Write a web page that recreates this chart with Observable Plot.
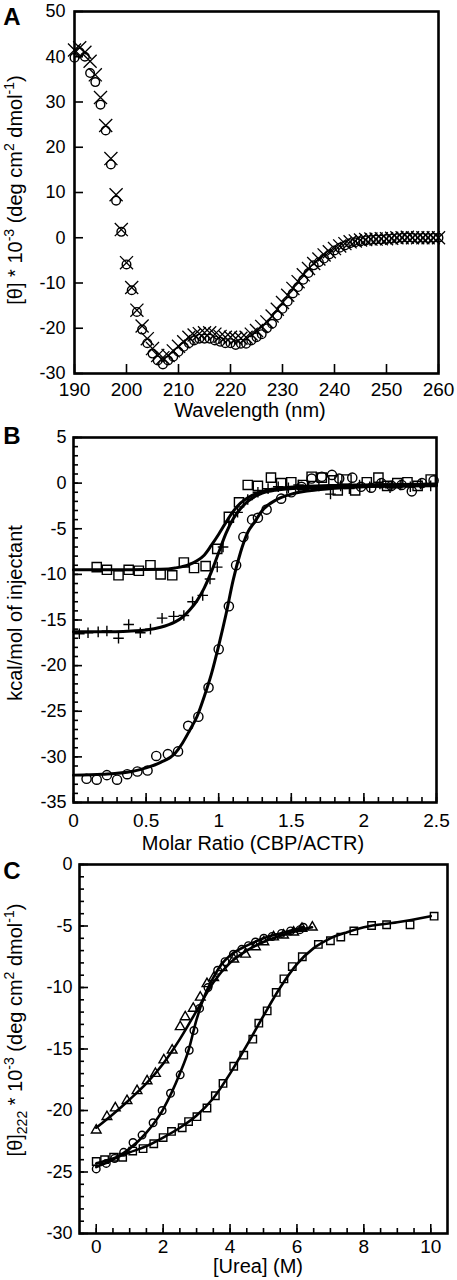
<!DOCTYPE html>
<html><head><meta charset="utf-8">
<script src="https://cdn.jsdelivr.net/npm/d3@7"></script>
<script src="https://cdn.jsdelivr.net/npm/@observablehq/plot@0.6"></script>
<style>body{margin:0;background:#fff;overflow:hidden}#chart svg{display:block}</style>
</head><body><div id="chart"></div>
<script>
// ---------- Panel A: CD spectra ----------
const wavelength = [190,191,192,193,194,195,196,197,198,199,200,201,202,203,204,205,206,207,208,209,210,211,212,213,214,215,216,217,218,219,220,221,222,223,224,225,226,227,228,229,230,231,232,233,234,235,236,237,238,239,240,241,242,243,244,245,246,247,248,249,250,251,252,253,254,255,256,257,258,259,260];
const thetaCircle = [39.8,41.0,40.0,36.4,34.4,29.4,23.7,16.2,8.2,1.3,-5.9,-11.6,-16.4,-20.3,-23.3,-25.6,-27.1,-28.0,-27.1,-26.3,-25.2,-24.1,-23.3,-22.7,-22.3,-22.3,-22.3,-22.7,-23.0,-23.3,-23.3,-23.7,-23.4,-23.4,-22.7,-22.0,-21.3,-20.0,-19.0,-17.2,-15.7,-14.1,-12.3,-10.9,-9.3,-7.8,-6.1,-5.4,-4.6,-3.7,-2.8,-2.2,-1.7,-1.2,-1.0,-0.8,-0.6,-0.5,-0.4,-0.4,-0.3,-0.2,-0.1,0.0,0.1,0.0,-0.1,0.0,-0.1,0.0,0.0];
const thetaCross = [41.5,42.0,41.0,39.0,36.0,31.0,24.8,17.5,9.5,1.8,-5.5,-11.0,-16.0,-19.5,-22.3,-24.5,-26.0,-26.5,-26.0,-25.0,-24.0,-23.0,-22.0,-21.5,-21.2,-21.0,-21.0,-21.3,-21.8,-22.0,-22.0,-22.2,-22.2,-22.0,-21.3,-20.5,-19.6,-18.6,-17.3,-15.8,-14.3,-12.7,-11.2,-9.7,-8.2,-6.8,-5.7,-4.7,-3.8,-3.1,-2.4,-1.8,-1.3,-0.9,-0.7,-0.5,-0.4,-0.3,-0.3,-0.2,-0.2,-0.1,0.0,0.0,0.1,0.0,0.0,0.0,0.0,0.0,0.0];
const aXTicks = [190,200,210,220,230,240,250,260];
const aYTicks = [50,40,30,20,10,0,-10,-20,-30];

// ---------- Panel B: ITC ----------
const bSquareX = [0.16,0.23,0.31,0.38,0.45,0.53,0.60,0.68,0.76,0.83,0.91,0.99,1.07,1.14,1.20,1.27,1.36,1.43,1.50,1.58,1.64,1.71,1.79,1.82,1.88,1.94,2.02,2.10,2.16,2.23,2.30,2.37,2.46];
const bSquareY = [-9.2,-9.5,-10.1,-9.5,-9.6,-9.0,-10.0,-10.1,-8.7,-9.3,-9.1,-7.2,-3.7,-2.1,-0.2,-0.3,0.6,0.0,0.1,-0.2,0.7,0.6,0.3,-0.8,0.4,-0.8,0.1,0.6,-0.3,0.0,0.1,-0.3,0.4];
const bPlusX = [0.04,0.10,0.17,0.23,0.31,0.38,0.46,0.53,0.61,0.69,0.76,0.82,0.89,0.94,0.99,1.03,1.07,1.13,1.20,1.27,1.34,1.41,1.48,1.55,1.62,1.69,1.77,1.84,1.90,1.97,2.04,2.11,2.18,2.25,2.32,2.39,2.46];
const bPlusY = [-16.5,-16.4,-16.3,-16.2,-17.0,-15.5,-16.4,-16.0,-14.8,-14.6,-14.5,-13.0,-12.3,-10.5,-9.2,-7.0,-4.3,-3.2,-1.8,-1.0,-0.6,-0.4,-0.5,-0.2,-0.4,-0.3,-1.2,-0.3,-0.6,-0.2,-0.4,-0.1,-0.5,-0.2,-0.4,-0.1,-0.3];
const bCircleX = [0.09,0.16,0.23,0.30,0.37,0.44,0.51,0.57,0.65,0.72,0.79,0.86,0.93,1.00,1.07,1.12,1.17,1.23,1.27,1.33,1.43,1.50,1.57,1.64,1.71,1.78,1.83,1.92,1.98,2.05,2.12,2.19,2.26,2.33,2.40,2.48];
const bCircleY = [-32.4,-32.5,-32.0,-32.5,-31.9,-31.6,-31.5,-29.9,-29.7,-29.4,-26.6,-25.6,-22.4,-18.2,-13.5,-9.0,-5.9,-4.0,-3.8,-2.9,-1.7,-1.0,-0.4,0.5,0.7,0.9,0.5,0.6,-0.4,-0.5,0.0,-0.3,-0.2,-0.9,0.0,0.3];
const bFitSqX = [0,0.2,0.4,0.6,0.7,0.8,0.85,0.9,0.95,1.0,1.05,1.1,1.15,1.2,1.3,1.4,1.6,1.8,2.0,2.5];
const bFitSqY = [-9.5,-9.5,-9.5,-9.45,-9.3,-8.9,-8.5,-7.9,-6.8,-5.6,-4.3,-3.1,-2.2,-1.6,-0.9,-0.6,-0.35,-0.25,-0.2,-0.1];
const bFitPlX = [0,0.2,0.4,0.5,0.6,0.7,0.75,0.8,0.85,0.9,0.95,1.0,1.05,1.1,1.15,1.2,1.3,1.4,1.6,1.8,2.0,2.5];
const bFitPlY = [-16.3,-16.3,-16.2,-16.1,-15.8,-15.2,-14.7,-13.9,-12.9,-11.5,-9.7,-7.6,-5.5,-3.9,-2.8,-2.0,-1.1,-0.75,-0.5,-0.4,-0.35,-0.3];
const bFitCiX = [0,0.2,0.4,0.5,0.6,0.7,0.75,0.8,0.85,0.9,0.95,1.0,1.05,1.1,1.15,1.2,1.25,1.3,1.4,1.5,1.7,2.0,2.5];
const bFitCiY = [-32.0,-31.9,-31.6,-31.2,-30.6,-29.6,-28.5,-27.1,-25.6,-23.4,-20.9,-17.8,-14.4,-10.6,-7.6,-5.4,-4.2,-3.0,-1.8,-1.2,-0.7,-0.4,-0.2];
const bXTicks = [0,0.5,1,1.5,2,2.5];
const bYTicks = [5,0,-5,-10,-15,-20,-25,-30,-35];

// ---------- Panel C: urea denaturation ----------
const cTriX = [0,0.32,0.57,0.92,1.22,1.52,1.77,2.02,2.27,2.51,2.66,2.90,3.11,3.31,3.51,3.76,4.11,4.46,4.76,5.01,5.30,5.60,5.90,6.15,6.46];
const cTriY = [-21.6,-20.5,-19.8,-19.2,-18.4,-17.6,-17.0,-15.9,-15.1,-13.2,-12.4,-11.7,-10.8,-9.7,-9.2,-8.4,-7.7,-7.3,-6.7,-6.3,-5.9,-5.75,-5.5,-5.2,-5.1];
const cCirX = [0,0.30,0.55,0.82,1.10,1.37,1.70,1.97,2.22,2.51,2.78,2.92,3.09,3.34,3.63,3.85,4.10,4.35,4.55,4.76,5.01,5.26,5.54,5.81,6.09,6.19];
const cCirY = [-24.75,-24.3,-23.9,-23.4,-22.6,-22.0,-21.0,-20.0,-18.6,-17.1,-15.1,-13.5,-11.7,-10.0,-8.6,-7.9,-7.3,-6.9,-6.6,-6.3,-6.0,-5.85,-5.6,-5.4,-5.3,-5.1];
const cSqX = [0,0.25,0.52,0.79,1.09,1.40,1.72,2.00,2.25,2.57,2.76,3.01,3.31,3.56,3.79,4.11,4.41,4.68,4.86,5.11,5.38,5.61,5.86,6.16,6.64,7.00,7.31,7.70,8.23,8.68,9.38,10.10];
const cSqY = [-24.15,-24.0,-23.8,-23.8,-23.3,-23.1,-22.7,-22.2,-21.7,-21.4,-20.9,-20.5,-19.8,-18.8,-17.8,-16.4,-15.5,-14.2,-12.9,-11.9,-10.4,-9.3,-8.3,-7.5,-6.5,-6.2,-5.9,-5.4,-4.96,-4.9,-4.9,-4.2];
const cFitTriX = [0,0.5,1,1.5,2,2.5,3,3.5,4,4.5,5,5.5,6,6.45];
const cFitTriY = [-21.4,-20.3,-19.1,-17.8,-16.2,-14.2,-11.9,-9.6,-8.0,-7.0,-6.3,-5.8,-5.4,-5.1];
const cFitCirX = [0,0.5,1,1.5,2,2.5,2.75,3,3.25,3.5,3.75,4,4.5,5,5.5,6.2];
const cFitCirY = [-24.6,-24.0,-23.1,-21.8,-19.9,-17.0,-15.2,-12.6,-10.6,-9.2,-8.1,-7.4,-6.6,-6.0,-5.6,-5.1];
const cFitSqX = [0,0.5,1,1.5,2,2.5,3,3.5,4,4.5,5,5.5,6,6.5,7,7.5,8,9,10];
const cFitSqY = [-24.3,-23.9,-23.4,-22.9,-22.2,-21.4,-20.4,-19.0,-17.0,-14.7,-12.3,-10.0,-8.1,-6.8,-6.0,-5.5,-5.1,-4.7,-4.2];
const cXTicks = [0,2,4,6,8,10];
const cYTicks = [0,-5,-10,-15,-20,-25,-30];

// ---------- helpers ----------
const FONT = "'Liberation Sans', Arial, Helvetica, sans-serif";
const pts = (xs, ys) => xs.map((x, i) => ({x, y: ys[i]}));
const fmt = d => String(d);

function panel(o) {
  const W = 457 - o.ml - o.mr, H = o.height - o.mt - o.mb;
  const tickMarks = [];
  if (o.xMinor) tickMarks.push(Plot.tickX(o.xMinor, {x: d => d, insetTop: H - 5, strokeWidth: 1.6}));
  tickMarks.push(Plot.tickX(o.xTicks, {x: d => d, insetTop: H - 9, strokeWidth: 1.6}));
  if (o.yMinor) tickMarks.push(Plot.tickY(o.yMinor, {y: d => d, insetRight: W - 5, strokeWidth: 1.6}));
  tickMarks.push(Plot.tickY(o.yTicks, {y: d => d, insetRight: W - 9, strokeWidth: 1.6}));
  const svg = Plot.plot({
    width: 457, height: o.height,
    marginLeft: o.ml, marginRight: o.mr, marginTop: o.mt, marginBottom: o.mb,
    style: {fontFamily: FONT, background: "#fff", color: "#000", overflow: "visible"},
    x: {domain: o.xDomain, axis: null},
    y: {domain: o.yDomain, axis: null},
    marks: [
      ...o.marks,
      ...tickMarks,
      Plot.axisX(o.xTicks, {tickSize: 0, tickPadding: o.xPad, tickFormat: fmt, fontSize: 19, label: null}),
      Plot.axisY(o.yTicks, {tickSize: 0, tickPadding: o.yPad, tickFormat: fmt, fontSize: 18, label: null}),
      Plot.frame({strokeWidth: 2.6})
    ]
  });
  const s = d3.select(svg);
  const t = s.append("text")
    .attr("transform", `translate(${o.yTitleX},${o.yTitleY}) rotate(-90)`)
    .attr("text-anchor", "middle").attr("font-family", FONT).attr("font-size", 20).attr("fill", "#000");
  let shift = 0;
  for (const [str, kind] of o.yTitle) {
    const target = kind === "sup" ? -8 : kind === "sub" ? 5 : 0;
    const ts = t.append("tspan").attr("dy", target - shift).text(str);
    if (kind) ts.attr("font-size", 14);
    shift = target;
  }
  s.append("text").attr("x", o.xTitleX).attr("y", o.xTitleY).attr("text-anchor", "middle")
    .attr("font-family", FONT).attr("font-size", 20).attr("fill", "#000").text(o.xTitle);
  s.append("text").attr("x", 12).attr("y", o.letterY).attr("text-anchor", "middle").attr("font-family", FONT)
    .attr("font-weight", "bold").attr("font-size", 24).attr("fill", "#000").text(o.letter);
  return svg;
}

const root = document.getElementById("chart");
const dotStyle = {stroke: "#000", fill: "none", strokeWidth: 1.4};

// Panel A
root.append(panel({
  height: 425, ml: 74, mr: 19, mt: 11, mb: 52,
  xDomain: [190, 260], yDomain: [-30, 50],
  xTicks: aXTicks, yTicks: aYTicks, xPad: 9, yPad: 9,
  letter: "A", letterY: 25,
  xTitle: "Wavelength (nm)", xTitleX: 250, xTitleY: 417,
  yTitleX: 22, yTitleY: 190,
  yTitle: [["[θ] * 10"], ["-3", "sup"], [" (deg cm"], ["2", "sup"], [" dmol"], ["-1", "sup"], [")"]],
  marks: [
    Plot.dot(pts(wavelength, thetaCross), {x: "x", y: "y", symbol: "times", r: 6, ...dotStyle, strokeWidth: 1.3}),
    Plot.dot(pts(wavelength, thetaCircle), {x: "x", y: "y", symbol: "circle", r: 4.3, ...dotStyle})
  ]
}));

// Panel B
root.append(panel({
  height: 430, ml: 73, mr: 21, mt: 12, mb: 53,
  xDomain: [0, 2.5], yDomain: [-35, 5],
  xTicks: bXTicks, yTicks: bYTicks, xPad: 11, yPad: 7,
  xMinor: d3.range(0, 2.51, 0.1).map(d => +d.toFixed(1)),
  yMinor: d3.range(-35, 5.5, 1),
  letter: "B", letterY: 19,
  xTitle: "Molar Ratio (CBP/ACTR)", xTitleX: 253, xTitleY: 425,
  yTitleX: 22, yTitleY: 188,
  yTitle: [["kcal/mol of injectant"]],
  marks: [
    Plot.line(pts(bFitSqX, bFitSqY), {x: "x", y: "y", curve: "monotone-x", strokeWidth: 3}),
    Plot.line(pts(bFitPlX, bFitPlY), {x: "x", y: "y", curve: "monotone-x", strokeWidth: 3}),
    Plot.line(pts(bFitCiX, bFitCiY), {x: "x", y: "y", curve: "monotone-x", strokeWidth: 3}),
    Plot.dot(pts(bSquareX, bSquareY), {x: "x", y: "y", symbol: "square", r: 5.2, ...dotStyle}),
    Plot.dot(pts(bPlusX, bPlusY), {x: "x", y: "y", symbol: "plus", r: 3.5, ...dotStyle}),
    Plot.dot(pts(bCircleX, bCircleY), {x: "x", y: "y", symbol: "circle", r: 4.6, ...dotStyle})
  ]
}));

// Panel C
root.append(panel({
  height: 425, ml: 79, mr: 10, mt: 9, mb: 47,
  xDomain: [-0.5, 10.5], yDomain: [-30, 0],
  xTicks: cXTicks, yTicks: cYTicks, xPad: 6, yPad: 7,
  xMinor: d3.range(0, 10.01, 0.5),
  yMinor: d3.range(-30, 0.5, 1),
  letter: "C", letterY: 24,
  xTitle: "[Urea] (M)", xTitleX: 258, xTitleY: 418,
  yTitleX: 22, yTitleY: 175,
  yTitle: [["[θ]"], ["222", "sub"], [" * 10"], ["-3", "sup"], [" (deg cm"], ["2", "sup"], [" dmol"], ["-1", "sup"], [")"]],
  marks: [
    Plot.line(pts(cFitTriX, cFitTriY), {x: "x", y: "y", curve: "monotone-x", strokeWidth: 2.6}),
    Plot.line(pts(cFitCirX, cFitCirY), {x: "x", y: "y", curve: "monotone-x", strokeWidth: 2.6}),
    Plot.line(pts(cFitSqX, cFitSqY), {x: "x", y: "y", curve: "monotone-x", strokeWidth: 2.6}),
    Plot.dot(pts(cTriX, cTriY), {x: "x", y: "y", symbol: "triangle", r: 3.6, ...dotStyle}),
    Plot.dot(pts(cCirX, cCirY), {x: "x", y: "y", symbol: "circle", r: 3.8, ...dotStyle}),
    Plot.dot(pts(cSqX, cSqY), {x: "x", y: "y", symbol: "square", r: 4.2, ...dotStyle})
  ]
}));
</script></body></html>
